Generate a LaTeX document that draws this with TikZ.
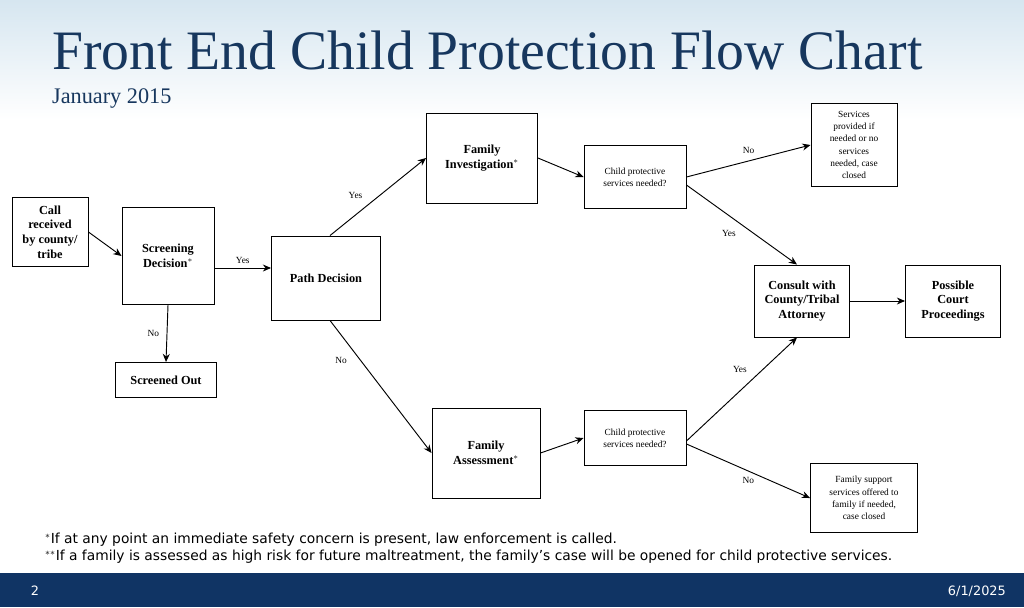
\documentclass[tikz,border=0pt]{standalone}
\usepackage{fontspec}
\setmainfont{Liberation Serif}
\newfontfamily\notefont{DejaVu Sans}
\usepackage{xcolor}
\definecolor{titleblue}{RGB}{23, 55, 94}
\definecolor{barblue}{RGB}{16, 52, 100}
\definecolor{skyblue}{RGB}{214, 230, 240}
\usetikzlibrary{arrows.meta,positioning,calc}

\begin{document}
\begin{tikzpicture}[
    x=0.3mm, y=-0.3mm,
    stepbox/.style={rectangle, draw, thick, fill=white, align=center, font=\fontsize{10.5}{12.5}\selectfont\bfseries, inner sep=2pt},
    smallbox/.style={rectangle, draw, thick, fill=white, align=center, font=\fontsize{8}{10.5}\selectfont, inner sep=2pt},
    arrow/.style={-{Stealth[length=7pt,width=6pt]}, thick},
    lab/.style={font=\fontsize{8}{9}\selectfont}
]

% page and background
\fill[white] (0,0) rectangle (1024,607);
\shade[top color=skyblue, bottom color=white] (0,0) rectangle (1024,120);
\fill[barblue] (0,573) rectangle (1024,607);

% title
\node[anchor=west, text=titleblue, font=\fontsize{47.5}{50}\selectfont] (title) at (48,50) {Front End Child Protection Flow Chart};
\node[anchor=west, text=titleblue, font=\fontsize{19}{22}\selectfont] (date) at (48,98) {January 2015};

% boxes
\node[stepbox, minimum width=76*0.3mm, minimum height=69*0.3mm] (call) at (50,232) {Call\\received\\by county/\\tribe};
\node[stepbox, minimum width=92*0.3mm, minimum height=97*0.3mm] (screen) at (168,256) {Screening\\Decision$^{*}$};
\node[stepbox, minimum width=101*0.3mm, minimum height=35*0.3mm] (out) at (166,380) {Screened Out};
\node[stepbox, minimum width=109*0.3mm, minimum height=84*0.3mm] (path) at (326,278) {Path Decision};
\node[stepbox, minimum width=111*0.3mm, minimum height=90*0.3mm] (invest) at (482,158) {Family\\Investigation$^{*}$};
\node[smallbox, minimum width=102*0.3mm, minimum height=63*0.3mm] (cpstop) at (635,177) {Child protective\\services needed?};
\node[smallbox, minimum width=86*0.3mm, minimum height=83*0.3mm] (services) at (854,145) {Services\\provided if\\needed or no\\services\\needed, case\\closed};
\node[stepbox, minimum width=95*0.3mm, minimum height=72*0.3mm] (consult) at (802,301) {Consult with\\County/Tribal\\Attorney};
\node[stepbox, minimum width=95*0.3mm, minimum height=72*0.3mm] (court) at (953,301) {Possible\\Court\\Proceedings};
\node[stepbox, minimum width=108*0.3mm, minimum height=90*0.3mm] (assess) at (486,453) {Family\\Assessment$^{*}$};
\node[smallbox, minimum width=102*0.3mm, minimum height=55*0.3mm] (cpsbot) at (635,438) {Child protective\\services needed?};
\node[smallbox, minimum width=107*0.3mm, minimum height=69*0.3mm] (support) at (864,498) {Family support\\services offered to\\family if needed,\\case closed};

% connectors
\draw[arrow] (call.east) -- (screen.west |- 0,256);
\draw[arrow] (screen.east |- 0,268) -- node[lab, above] {Yes} (path.west |- 0,268);
\draw[arrow] (screen.south) -- node[lab, left=3pt] {No} (out.north);
\draw[arrow] ($(path.north)+(4,0)$) -- node[lab, above left=2pt, pos=0.4] {Yes} (invest.west);
\draw[arrow] ($(path.south)+(4,0)$) -- node[lab, left=8pt, pos=0.3] {No} (assess.west);
\draw[arrow] (invest.east) -- (cpstop.west);
\draw[arrow] (cpstop.east) -- node[lab, above=3pt, pos=0.5] {No} (services.west);
\draw[arrow] ($(cpstop.east)+(0,8)$) -- node[lab, below left=2pt, pos=0.5] {Yes} ($(consult.north)+(-5,0)$);
\draw[arrow] (assess.east) -- (cpsbot.west);
\draw[arrow] ($(cpsbot.east)+(0,3)$) -- node[lab, above left=2pt, pos=0.6] {Yes} ($(consult.south)+(-5,0)$);
\draw[arrow] ($(cpsbot.east)+(0,6)$) -- node[lab, below=2pt, pos=0.5] {No} (support.west);
\draw[arrow] (consult.east) -- (court.west);

% footnotes
\node[anchor=west, inner sep=0pt, font=\notefont\fontsize{11.8}{13}\selectfont] (note1) at (45,540) {$^{*}$If at any point an immediate safety concern is present, law enforcement is called.};
\node[anchor=west, inner sep=0pt, font=\notefont\fontsize{11.8}{13}\selectfont] (note2) at (45,557) {$^{**}$If a family is assessed as high risk for future maltreatment, the family’s case will be opened for child protective services.};

% footer
\node[text=white, font=\notefont\fontsize{11}{13}\selectfont] (page) at (35,591) {2};
\node[anchor=east, text=white, font=\notefont\fontsize{11}{13}\selectfont] (day) at (1010,591) {6/1/2025};
\end{tikzpicture}
\end{document}
